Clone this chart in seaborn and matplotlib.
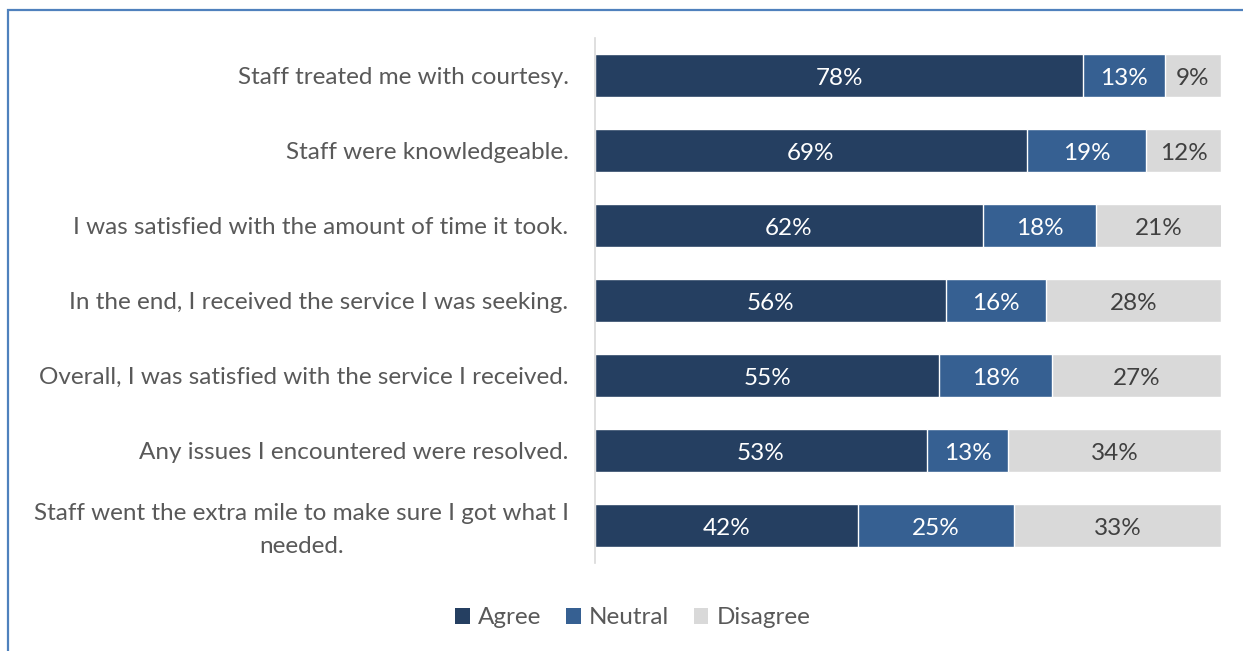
import matplotlib
matplotlib.use("Agg")
import matplotlib.pyplot as plt
from matplotlib.patches import Rectangle, Patch
from matplotlib.transforms import ScaledTranslation
import seaborn as sns
import pandas as pd

statements = [
    "Staff treated me with courtesy.",
    "Staff were knowledgeable.",
    "I was satisfied with the amount of time it took.",
    "In the end, I received the service I was seeking.",
    "Overall, I was satisfied with the service I received.",
    "Any issues I encountered were resolved.",
    "Staff went the extra mile to make sure I got what I\nneeded.",
]
agree = [78, 69, 62, 56, 55, 53, 42]
neutral = [13, 19, 18, 16, 18, 13, 25]
disagree = [9, 12, 21, 28, 27, 34, 33]
series = ["Agree", "Neutral", "Disagree"]

colors = {"Agree": "#253F61", "Neutral": "#366092", "Disagree": "#D9D9D9"}
text_gray = "#595959"
fs = 17.5

sns.set_theme(style="white")
plt.rcParams["font.family"] = ["Lato", "DejaVu Sans"]

df = pd.DataFrame({"statement": statements, "Agree": agree,
                   "Neutral": neutral, "Disagree": disagree})
df["cum_neutral"] = df["Agree"] + df["Neutral"]
df["cum_total"] = df["cum_neutral"] + df["Disagree"]

fig = plt.figure(figsize=(12.43, 6.51), dpi=100)
ax = fig.add_axes([595 / 1243, 1 - 563 / 651, (1221 - 595) / 1243, 525 / 651])

# stacked bars: draw cumulative totals back to front
for col, name in [("cum_total", "Disagree"), ("cum_neutral", "Neutral"), ("Agree", "Agree")]:
    sns.barplot(data=df, x=col, y="statement", orient="h", color=colors[name],
                width=0.58, saturation=1, ax=ax)

ax.set_xlim(0, 100)
ax.set_ylim(6.5, -0.5)
ax.set_xlabel("")
ax.set_ylabel("")
ax.set_xticks([])
for s in ["top", "right", "bottom"]:
    ax.spines[s].set_visible(False)
ax.spines["left"].set_color("#D9D9D9")
ax.spines["left"].set_linewidth(1.2)
ax.tick_params(axis="y", length=0, pad=19, labelsize=fs, labelcolor=text_gray)
for lbl in ax.get_yticklabels():
    lbl.set_horizontalalignment("right")
    lbl.set_multialignment("center")
    lbl.set_linespacing(1.75)
    if "\n" in lbl.get_text():
        lbl.set_transform(lbl.get_transform() + ScaledTranslation(0, 0.04, fig.dpi_scale_trans))

# segment value labels
for i in range(len(statements)):
    starts = [0, agree[i], agree[i] + neutral[i]]
    vals = [agree[i], neutral[i], disagree[i]]
    for name, st, v in zip(series, starts, vals):
        end = min(st + v, 100)
        cx = (st + end) / 2
        tc = "white" if name != "Disagree" else "#404040"
        ax.text(cx, i + 0.035, f"{v}%", ha="center", va="center", fontsize=fs, color=tc)

handles = [Patch(facecolor=colors[n], edgecolor="none", label=n) for n in series]
fig.legend(handles=handles, loc="center", bbox_to_anchor=(633 / 1243, 1 - 618 / 651),
           ncol=3, frameon=False, fontsize=fs, labelcolor=text_gray,
           handlelength=0.6, handleheight=0.6, handletextpad=0.35, columnspacing=1.0)

# chart frame
fig.add_artist(Rectangle((8 / 1243, -0.5), 2, 0.5 + 1 - 10 / 651, transform=fig.transFigure,
                         fill=False, edgecolor="#4F81BD", linewidth=1.6))

fig.savefig("out.png", dpi=100)
